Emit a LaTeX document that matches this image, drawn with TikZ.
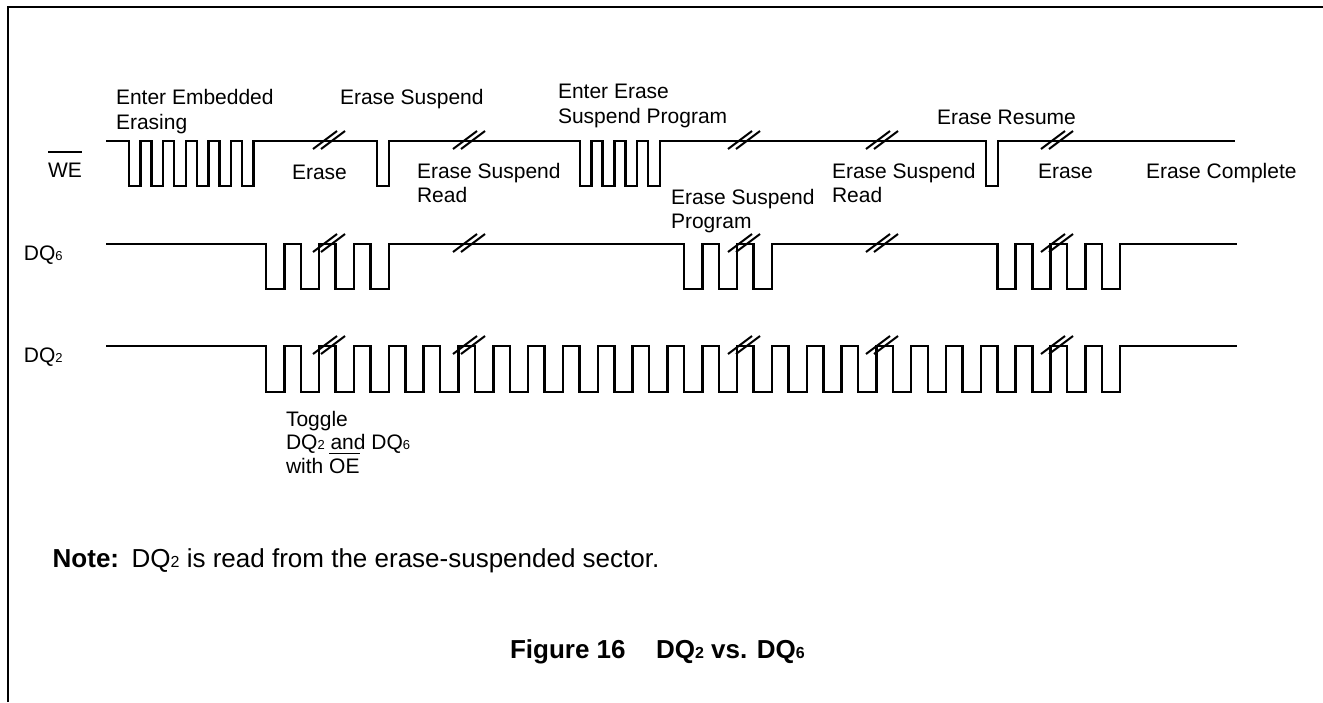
\documentclass[tikz,border=0pt]{standalone}
\usepackage{fontspec}
\setmainfont{Liberation Sans}
\newcommand\sdig[1]{{\fontsize{6.5}{7}\selectfont #1}}
\newcommand\bdig[1]{{\fontsize{8}{9}\selectfont #1}}
\newcommand\ovl[2]{\leavevmode\setbox0\hbox{#2}\rlap{\rule[#1]{\wd0}{0.9pt}}\box0}
\tikzset{
  wave/.style={line width=1.25pt, line join=miter},
  brkline/.style={line width=1pt},
  lbl/.style={anchor=base west, inner sep=0pt, outer sep=0pt, font=\fontsize{10.5}{12}\selectfont},
  big/.style={anchor=base west, inner sep=0pt, outer sep=0pt, font=\fontsize{13}{15}\selectfont},
  bigb/.style={anchor=base west, inner sep=0pt, outer sep=0pt, font=\fontsize{13}{15}\selectfont\bfseries},
  frame/.style={line width=1.2pt}
}
\begin{document}
\begin{tikzpicture}[x=0.5pt, y=-0.5pt]
\useasboundingbox (0,0) rectangle (1323,702);
% frame
\draw[frame] (8,702) -- (8,7) -- (1323,7);

% WE waveform
\draw[wave] (106,141)
  \foreach \k in {0,...,5} { -- ({129+22.6*\k},141) -- ++(0,45) -- ++(11.6,0) -- ++(0,-45) }
  -- (377,141) -- ++(0,45) -- ++(12,0) -- ++(0,-45)
  \foreach \k in {0,...,3} { -- ({580+22.7*\k},141) -- ++(0,45) -- ++(11.7,0) -- ++(0,-45) }
  -- (986,141) -- ++(0,45) -- ++(12,0) -- ++(0,-45)
  -- (1235,141);

% DQ6 waveform
\draw[wave] (106,244)
  \foreach \k in {0,1,2,3,12,13,14,21,22,23,24} { -- ({266+34.83*\k},244) -- ++(0,45) -- ++(18.3,0) -- ++(0,-45) }
  -- (1237,244);

% DQ2 waveform
\draw[wave] (106,346)
  \foreach \k in {0,...,24} { -- ({266+34.83*\k},346) -- ++(0,46) -- ++(18.3,0) -- ++(0,-46) }
  -- (1237,346);

% break marks
\foreach \yy in {140,243,345} {
  \foreach \xx in {329,469,744,882,1057} {
    \draw[brkline] ({\xx-16},{\yy+9}) -- ({\xx+8},{\yy-9});
    \draw[brkline] ({\xx-8},{\yy+9}) -- ({\xx+16},{\yy-9});
  }
}

% signal names
\node[lbl] (we) at (48,177) {\ovl{12pt}{WE}};
\node[lbl] (dq6) at (24,260) {DQ\sdig{6}};
\node[lbl] (dq2) at (24,362) {DQ\sdig{2}};

% phase labels
\node[lbl] (t1a) at (116,104) {Enter Embedded};
\node[lbl] (t1b) at (116,129) {Erasing};
\node[lbl] (t2) at (340,104) {Erase Suspend};
\node[lbl] (t3) at (292,179) {Erase};
\node[lbl] (t4a) at (417,178) {Erase Suspend};
\node[lbl] (t4b) at (417,202) {Read};
\node[lbl] (t5a) at (558,98) {Enter Erase};
\node[lbl] (t5b) at (558,123) {Suspend Program};
\node[lbl] (t6a) at (671,204) {Erase Suspend};
\node[lbl] (t6b) at (671,228) {Program};
\node[lbl] (t7a) at (832,178) {Erase Suspend};
\node[lbl] (t7b) at (832,202) {Read};
\node[lbl] (t8) at (937,124) {Erase Resume};
\node[lbl] (t9) at (1038,178) {Erase};
\node[lbl] (t10) at (1146,178) {Erase Complete};

% toggle note
\node[lbl] (tg1) at (286,426) {Toggle};
\node[lbl] (tg2) at (286,449) {DQ\sdig{2} and DQ\sdig{6}};
\node[lbl] (tg3) at (286,473) {with \ovl{9.3pt}{OE}};

% note
\node[bigb] (note) at (52.7,567) {Note:};
\node[big] (notetxt) at (131.7,567) {DQ\bdig{2} is read from the erase-suspended sector.};

% caption
\node[bigb] (fig) at (510,658) {Figure 16};
\node[bigb] (figt) at (656,658) {DQ\bdig{2} vs. DQ\bdig{6}};
\end{tikzpicture}
\end{document}
